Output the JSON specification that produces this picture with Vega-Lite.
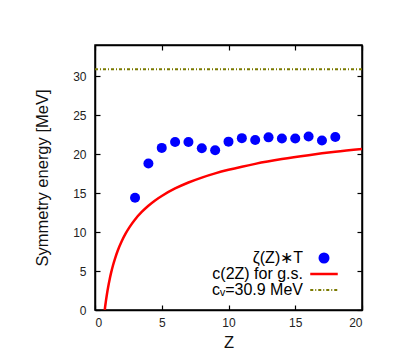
{
  "$schema": "https://vega.github.io/schema/vega-lite/v6.json",
  "width": 267,
  "height": 265,
  "autosize": "none",
  "padding": {"left": 95, "top": 45, "right": 37, "bottom": 49},
  "config": {
    "view": {"stroke": "black", "strokeWidth": 1.5},
    "axis": {
      "grid": false,
      "domainColor": "black",
      "domainWidth": 1.5,
      "tickColor": "black",
      "tickWidth": 1.2,
      "tickSize": -5,
      "labelFont": "Liberation Sans",
      "labelFontSize": 12,
      "labelColor": "#222",
      "titleFont": "Liberation Sans",
      "titleFontWeight": "normal",
      "titleColor": "#111"
    }
  },
  "data": {
    "values": [
      {"series": "ζ(Z)∗T", "Z": 3, "E": 14.4},
      {"series": "ζ(Z)∗T", "Z": 4, "E": 18.8},
      {"series": "ζ(Z)∗T", "Z": 5, "E": 20.8},
      {"series": "ζ(Z)∗T", "Z": 6, "E": 21.55},
      {"series": "ζ(Z)∗T", "Z": 7, "E": 21.55},
      {"series": "ζ(Z)∗T", "Z": 8, "E": 20.75},
      {"series": "ζ(Z)∗T", "Z": 9, "E": 20.5},
      {"series": "ζ(Z)∗T", "Z": 10, "E": 21.6},
      {"series": "ζ(Z)∗T", "Z": 11, "E": 22.05},
      {"series": "ζ(Z)∗T", "Z": 12, "E": 21.8},
      {"series": "ζ(Z)∗T", "Z": 13, "E": 22.15},
      {"series": "ζ(Z)∗T", "Z": 14, "E": 22.0},
      {"series": "ζ(Z)∗T", "Z": 15, "E": 22.0},
      {"series": "ζ(Z)∗T", "Z": 16, "E": 22.25},
      {"series": "ζ(Z)∗T", "Z": 17, "E": 21.75},
      {"series": "ζ(Z)∗T", "Z": 18, "E": 22.2},
      {"series": "c(2Z) for g.s.", "Z": 0.73, "E": 0.0},
      {"series": "c(2Z) for g.s.", "Z": 0.75, "E": 0.29},
      {"series": "c(2Z) for g.s.", "Z": 0.8, "E": 0.94},
      {"series": "c(2Z) for g.s.", "Z": 0.9, "E": 2.09},
      {"series": "c(2Z) for g.s.", "Z": 1.0, "E": 3.09},
      {"series": "c(2Z) for g.s.", "Z": 1.1, "E": 3.96},
      {"series": "c(2Z) for g.s.", "Z": 1.2, "E": 4.73},
      {"series": "c(2Z) for g.s.", "Z": 1.35, "E": 5.74},
      {"series": "c(2Z) for g.s.", "Z": 1.5, "E": 6.6},
      {"series": "c(2Z) for g.s.", "Z": 1.7, "E": 7.6},
      {"series": "c(2Z) for g.s.", "Z": 2.0, "E": 8.82},
      {"series": "c(2Z) for g.s.", "Z": 2.3, "E": 9.83},
      {"series": "c(2Z) for g.s.", "Z": 2.6, "E": 10.67},
      {"series": "c(2Z) for g.s.", "Z": 3.0, "E": 11.62},
      {"series": "c(2Z) for g.s.", "Z": 3.5, "E": 12.58},
      {"series": "c(2Z) for g.s.", "Z": 4.0, "E": 13.38},
      {"series": "c(2Z) for g.s.", "Z": 4.5, "E": 14.06},
      {"series": "c(2Z) for g.s.", "Z": 5, "E": 14.63},
      {"series": "c(2Z) for g.s.", "Z": 6, "E": 15.59},
      {"series": "c(2Z) for g.s.", "Z": 7, "E": 16.36},
      {"series": "c(2Z) for g.s.", "Z": 8, "E": 16.99},
      {"series": "c(2Z) for g.s.", "Z": 9, "E": 17.53},
      {"series": "c(2Z) for g.s.", "Z": 10, "E": 17.99},
      {"series": "c(2Z) for g.s.", "Z": 11, "E": 18.39},
      {"series": "c(2Z) for g.s.", "Z": 12, "E": 18.75},
      {"series": "c(2Z) for g.s.", "Z": 14, "E": 19.36},
      {"series": "c(2Z) for g.s.", "Z": 16, "E": 19.86},
      {"series": "c(2Z) for g.s.", "Z": 18, "E": 20.29},
      {"series": "c(2Z) for g.s.", "Z": 20, "E": 20.65},
      {"series": "cᵥ=30.9 MeV", "Z": 0, "E": 30.9},
      {"series": "cᵥ=30.9 MeV", "Z": 20, "E": 30.9}
    ]
  },
  "resolve": {"axis": {"x": "independent", "y": "independent"}},
  "layer": [
    {
      "transform": [{"filter": "datum.series === 'c(2Z) for g.s.'"}],
      "mark": {"type": "line", "strokeWidth": 2.5, "interpolate": "monotone", "clip": true},
      "encoding": {
        "x": {"field": "Z", "type": "quantitative", "scale": {"domain": [0, 20], "nice": false, "zero": false},
              "axis": {"orient": "bottom", "values": [0, 5, 10, 15, 20], "labelPadding": 12, "title": "Z", "titleFontSize": 16.5, "titlePadding": 6}},
        "y": {"field": "E", "type": "quantitative", "scale": {"domain": [0, 34], "nice": false, "zero": false},
              "axis": {"orient": "left", "values": [0, 5, 10, 15, 20, 25, 30], "labelPadding": 14, "title": "Symmetry energy [MeV]", "titleFontSize": 16.5, "titlePadding": 22}},
        "color": {"field": "series", "type": "nominal",
          "scale": {"domain": ["ζ(Z)∗T", "c(2Z) for g.s.", "cᵥ=30.9 MeV"], "range": ["#0000ff", "#ff0000", "#7a7a00"]},
          "legend": {
            "orient": "none", "legendX": 221, "legendY": 205,
            "title": null, "padding": 0,
            "labelAlign": "right", "labelOffset": -29,
            "labelFont": "Liberation Sans", "labelFontSize": 16, "labelColor": "black",
            "symbolSize": 121, "rowPadding": 0,
            "encode": {
              "symbols": {"update": {
                "shape": {"signal": "datum.value === 'ζ(Z)∗T' ? 'circle' : 'M-2.5,0H2.5'"},
                "fill": {"signal": "datum.value === 'ζ(Z)∗T' ? '#0000ff' : 'transparent'"},
                "stroke": {"signal": "datum.value === 'ζ(Z)∗T' ? 'transparent' : (datum.value === 'c(2Z) for g.s.' ? '#ff0000' : '#7a7a00')"},
                "strokeWidth": {"signal": "datum.value === 'ζ(Z)∗T' ? 0 : (datum.value === 'c(2Z) for g.s.' ? 2.5 : 2)"},
                "strokeDash": {"signal": "datum.value === 'cᵥ=30.9 MeV' ? [3,2,1,2] : [1,0]"},
                "opacity": {"value": 1}
              }}
            }
          }
        }
      }
    },
    {
      "transform": [{"filter": "datum.series === 'cᵥ=30.9 MeV'"}],
      "mark": {"type": "line", "strokeWidth": 2, "strokeDash": [3, 2, 1, 2]},
      "encoding": {
        "x": {"field": "Z", "type": "quantitative", "axis": {"orient": "top", "values": [0, 5, 10, 15, 20], "labels": false, "title": null}},
        "y": {"field": "E", "type": "quantitative", "axis": {"orient": "right", "values": [0, 5, 10, 15, 20, 25, 30], "labels": false, "title": null}},
        "color": {"field": "series", "type": "nominal"}
      }
    },
    {
      "transform": [{"filter": "datum.series === 'ζ(Z)∗T'"}],
      "mark": {"type": "point", "filled": true, "size": 100, "opacity": 1, "shape": "circle"},
      "encoding": {
        "x": {"field": "Z", "type": "quantitative", "axis": null},
        "y": {"field": "E", "type": "quantitative", "axis": null},
        "color": {"field": "series", "type": "nominal"}
      }
    }
  ]
}
